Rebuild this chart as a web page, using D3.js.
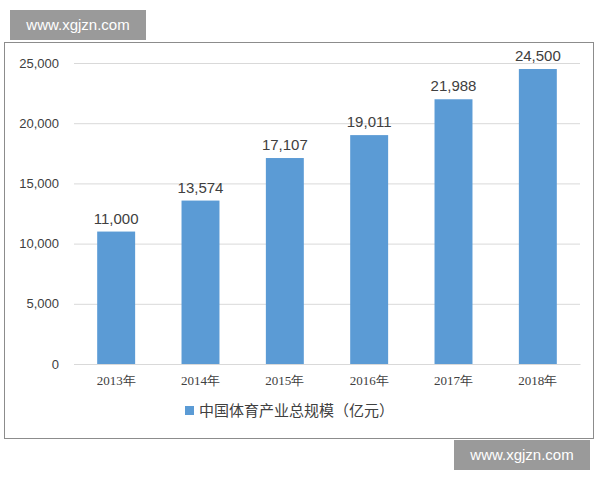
<!DOCTYPE html>
<html lang="zh">
<head>
<meta charset="UTF-8">
<script src="https://d3js.org/d3.v7.min.js"></script>
<style>
  body { margin: 0; background: #fff; }
  svg { display: block; font-family: "Noto Sans CJK SC", "Liberation Sans", Arial, sans-serif; }
</style>
</head>
<body>
<svg id="chart" width="600" height="480"></svg>
<script>
// data
const years = ["2013年", "2014年", "2015年", "2016年", "2017年", "2018年"];
const values = [11000, 13574, 17107, 19011, 21988, 24500];
const yTicks = [0, 5000, 10000, 15000, 20000, 25000];
const seriesName = "中国体育产业总规模（亿元）";

const svg = d3.select("#chart");

// outer frame
svg.append("rect")
    .attr("x", 4.5).attr("y", 42.5).attr("width", 589).attr("height", 396)
    .attr("fill", "#fff").attr("stroke", "#8c8c8c");

const x = d3.scaleBand().domain(years).range([74, 580]).paddingInner(0.55).paddingOuter(0.275);
const y = d3.scaleLinear().domain([0, 25000]).range([364, 63]);

// grid lines
svg.append("g").selectAll("line").data(yTicks).join("line")
    .attr("x1", 74).attr("x2", 580)
    .attr("y1", d => y(d) + 0.5).attr("y2", d => y(d) + 0.5)
    .attr("stroke", "#d9d9d9");

// y axis labels
const yAxis = svg.append("g").attr("transform", "translate(62,0)")
    .call(d3.axisLeft(y).tickValues(yTicks).tickFormat(d3.format(",")).tickSize(0));
yAxis.select(".domain").remove();
yAxis.selectAll("text").attr("font-size", 13).attr("fill", "#404040")
    .attr("font-family", "Liberation Sans, Arial, sans-serif");

// bars
svg.append("g").selectAll("rect").data(values).join("rect")
    .attr("x", (d, i) => x(years[i]))
    .attr("y", d => y(d))
    .attr("width", x.bandwidth())
    .attr("height", d => y(0) - y(d))
    .attr("fill", "#5b9bd5");

// value labels
svg.append("g").selectAll("text").data(values).join("text")
    .attr("x", (d, i) => x(years[i]) + x.bandwidth() / 2)
    .attr("y", d => y(d) - 8)
    .attr("text-anchor", "middle")
    .attr("font-size", 15).attr("fill", "#404040")
    .attr("font-family", "Liberation Sans, Arial, sans-serif")
    .text(d => d3.format(",")(d));

// x axis labels
const xAxis = svg.append("g").attr("transform", "translate(0,364)")
    .call(d3.axisBottom(x).tickSize(0).tickPadding(12));
xAxis.select(".domain").attr("stroke", "#d9d9d9");
xAxis.selectAll("text").attr("font-size", 13).attr("fill", "#404040")
    .attr("font-family", "Liberation Serif, serif");

// legend
svg.append("rect").attr("x", 185).attr("y", 406).attr("width", 9).attr("height", 9).attr("fill", "#5b9bd5");
svg.append("text").attr("x", 199).attr("y", 416).attr("font-size", 15).attr("fill", "#404040").text(seriesName);

// watermarks
function mark(x0, y0) {
  svg.append("rect").attr("x", x0).attr("y", y0).attr("width", 136).attr("height", 30).attr("fill", "#9a9a9a");
  svg.append("text").attr("x", x0 + 68).attr("y", y0 + 20).attr("text-anchor", "middle")
      .attr("font-size", 15).attr("fill", "#fff").attr("font-family", "Liberation Sans, Arial, sans-serif")
      .text("www.xgjzn.com");
}
mark(10, 10);
mark(454, 440);
</script>
</body>
</html>
